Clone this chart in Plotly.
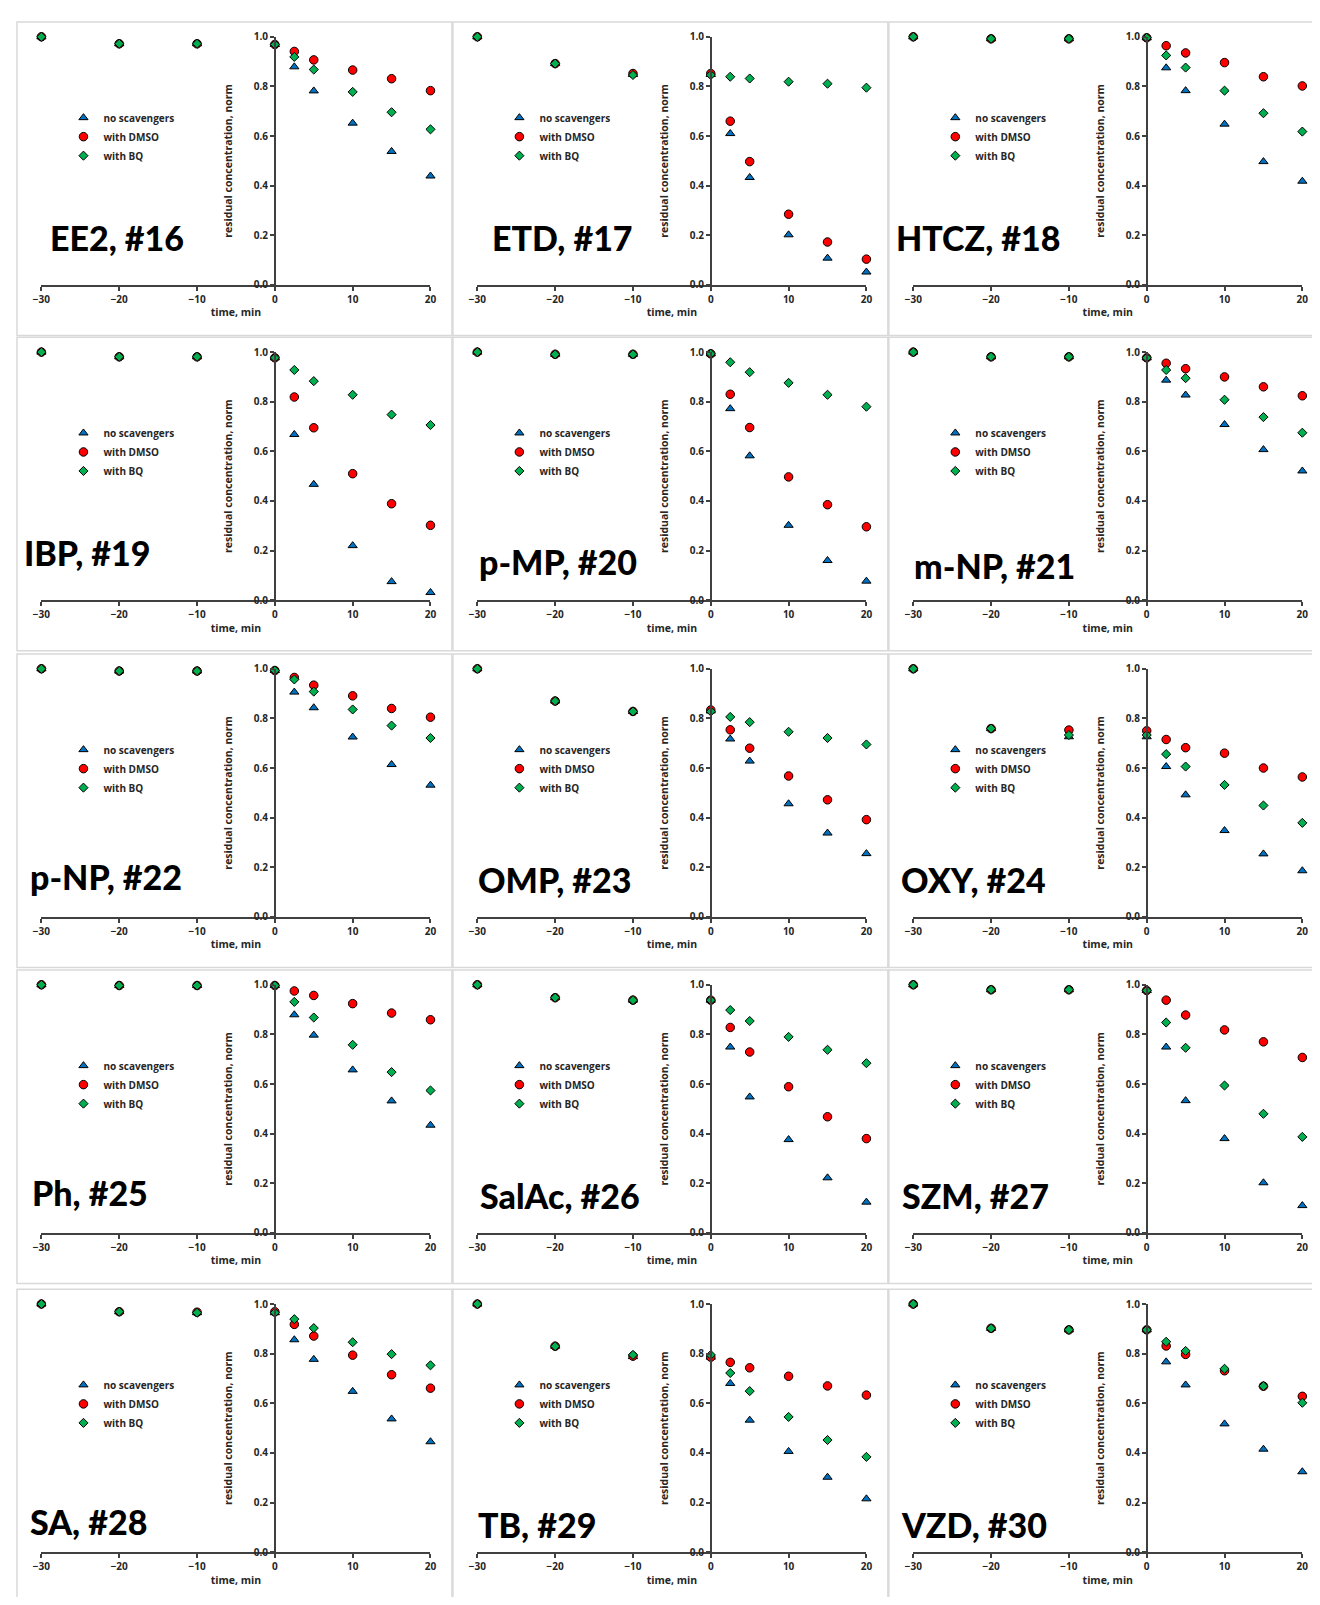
import plotly.graph_objects as go

# page is 1320x1605; the HTML body keeps its default 8px margin,
# so the figure itself is 16px smaller and all positions are shifted by 8px
PAGE_W, PAGE_H = 1320, 1605
BODY_MARGIN = 8
W, H = PAGE_W - 2 * BODY_MARGIN, PAGE_H - 2 * BODY_MARGIN

time_min = [-30, -20, -10, 0, 2.5, 5, 10, 15, 20]

series_names = ["no scavengers", "with DMSO", "with BQ"]

labels = ["EE2, #16", "ETD, #17", "HTCZ, #18",
          "IBP, #19", "p-MP, #20", "m-NP, #21",
          "p-NP, #22", "OMP, #23", "OXY, #24",
          "Ph, #25", "SalAc, #26", "SZM, #27",
          "SA, #28", "TB, #29", "VZD, #30"]

ee2_none = [1.0, 0.972, 0.972, 0.969, 0.879, 0.782, 0.652, 0.538, 0.439]
ee2_dmso = [1.0, 0.972, 0.972, 0.969, 0.941, 0.907, 0.866, 0.831, 0.783]
ee2_bq = [1.0, 0.972, 0.972, 0.969, 0.919, 0.868, 0.778, 0.696, 0.627]

etd_none = [1.0, 0.892, 0.848, 0.848, 0.610, 0.433, 0.202, 0.108, 0.052]
etd_dmso = [1.0, 0.892, 0.852, 0.852, 0.660, 0.497, 0.285, 0.173, 0.104]
etd_bq = [1.0, 0.892, 0.846, 0.846, 0.839, 0.832, 0.819, 0.811, 0.795]

htcz_none = [1.0, 0.992, 0.992, 0.996, 0.875, 0.783, 0.648, 0.497, 0.418]
htcz_dmso = [1.0, 0.992, 0.992, 0.996, 0.964, 0.935, 0.896, 0.839, 0.802]
htcz_bq = [1.0, 0.992, 0.992, 0.996, 0.925, 0.876, 0.783, 0.692, 0.618]

ibp_none = [1.0, 0.981, 0.981, 0.977, 0.668, 0.467, 0.220, 0.075, 0.031]
ibp_dmso = [1.0, 0.981, 0.981, 0.977, 0.819, 0.695, 0.510, 0.389, 0.302]
ibp_bq = [1.0, 0.981, 0.981, 0.977, 0.928, 0.883, 0.828, 0.748, 0.706]

pmp_none = [1.0, 0.991, 0.991, 0.993, 0.772, 0.582, 0.302, 0.160, 0.077]
pmp_dmso = [1.0, 0.991, 0.991, 0.993, 0.830, 0.696, 0.497, 0.385, 0.296]
pmp_bq = [1.0, 0.991, 0.991, 0.993, 0.959, 0.919, 0.876, 0.828, 0.780]

mnp_none = [1.0, 0.981, 0.981, 0.977, 0.887, 0.827, 0.708, 0.607, 0.521]
mnp_dmso = [1.0, 0.981, 0.981, 0.977, 0.955, 0.933, 0.900, 0.860, 0.824]
mnp_bq = [1.0, 0.981, 0.981, 0.977, 0.928, 0.895, 0.808, 0.738, 0.675]

pnp_none = [1.0, 0.991, 0.991, 0.993, 0.906, 0.843, 0.725, 0.614, 0.531]
pnp_dmso = [1.0, 0.991, 0.991, 0.993, 0.965, 0.934, 0.891, 0.840, 0.805]
pnp_bq = [1.0, 0.991, 0.991, 0.993, 0.957, 0.908, 0.836, 0.771, 0.721]

omp_none = [1.0, 0.870, 0.828, 0.830, 0.717, 0.628, 0.456, 0.338, 0.255]
omp_dmso = [1.0, 0.870, 0.828, 0.834, 0.754, 0.680, 0.568, 0.472, 0.392]
omp_bq = [1.0, 0.870, 0.828, 0.828, 0.806, 0.785, 0.746, 0.721, 0.695]

oxy_none = [1.0, 0.759, 0.726, 0.726, 0.606, 0.492, 0.348, 0.254, 0.186]
oxy_dmso = [1.0, 0.759, 0.753, 0.750, 0.715, 0.682, 0.660, 0.600, 0.564]
oxy_bq = [1.0, 0.759, 0.733, 0.733, 0.656, 0.606, 0.532, 0.449, 0.379]

ph_none = [1.0, 0.997, 0.997, 0.997, 0.879, 0.797, 0.657, 0.532, 0.434]
ph_dmso = [1.0, 0.997, 0.997, 0.997, 0.975, 0.957, 0.924, 0.886, 0.859]
ph_bq = [1.0, 0.997, 0.997, 0.997, 0.931, 0.868, 0.758, 0.648, 0.574]

salac_none = [1.0, 0.948, 0.938, 0.938, 0.749, 0.548, 0.376, 0.222, 0.124]
salac_dmso = [1.0, 0.948, 0.938, 0.938, 0.828, 0.729, 0.589, 0.468, 0.380]
salac_bq = [1.0, 0.948, 0.938, 0.938, 0.898, 0.854, 0.790, 0.738, 0.684]

szm_none = [1.0, 0.980, 0.980, 0.977, 0.749, 0.533, 0.380, 0.202, 0.110]
szm_dmso = [1.0, 0.980, 0.980, 0.977, 0.938, 0.878, 0.818, 0.770, 0.707]
szm_bq = [1.0, 0.980, 0.980, 0.977, 0.848, 0.746, 0.594, 0.480, 0.387]

sa_none = [1.0, 0.969, 0.965, 0.965, 0.856, 0.777, 0.648, 0.537, 0.445]
sa_dmso = [1.0, 0.969, 0.967, 0.969, 0.918, 0.871, 0.794, 0.715, 0.661]
sa_bq = [1.0, 0.969, 0.965, 0.965, 0.939, 0.903, 0.846, 0.798, 0.753]

tb_none = [1.0, 0.830, 0.788, 0.786, 0.680, 0.532, 0.406, 0.302, 0.215]
tb_dmso = [1.0, 0.830, 0.790, 0.786, 0.765, 0.743, 0.709, 0.670, 0.633]
tb_bq = [1.0, 0.830, 0.795, 0.795, 0.722, 0.649, 0.545, 0.452, 0.384]

vzd_none = [1.0, 0.902, 0.896, 0.896, 0.767, 0.674, 0.517, 0.415, 0.324]
vzd_dmso = [1.0, 0.902, 0.896, 0.896, 0.831, 0.797, 0.731, 0.669, 0.628]
vzd_bq = [1.0, 0.902, 0.896, 0.896, 0.848, 0.811, 0.739, 0.669, 0.602]

panels = [
    (ee2_none, ee2_dmso, ee2_bq), (etd_none, etd_dmso, etd_bq), (htcz_none, htcz_dmso, htcz_bq),
    (ibp_none, ibp_dmso, ibp_bq), (pmp_none, pmp_dmso, pmp_bq), (mnp_none, mnp_dmso, mnp_bq),
    (pnp_none, pnp_dmso, pnp_bq), (omp_none, omp_dmso, omp_bq), (oxy_none, oxy_dmso, oxy_bq),
    (ph_none, ph_dmso, ph_bq), (salac_none, salac_dmso, salac_bq), (szm_none, szm_dmso, szm_bq),
    (sa_none, sa_dmso, sa_bq), (tb_none, tb_dmso, tb_bq), (vzd_none, vzd_dmso, vzd_bq),
]

x_ticks = [-30, -20, -10, 0, 10, 20]
y_ticks = [0.0, 0.2, 0.4, 0.6, 0.8, 1.0]

# ---- layout geometry (page pixels) ----
col_left = [8, 449, 890]
row_top = [14, 332.3, 652, 971, 1293.3]
PANEL_W, PANEL_H = 440, 316.5
X0_OFF, X1_OFF = 24.7, 418.3
Y1_OFF, Y0_OFF = 15, 265.5
label_off = [(33.7, 234), (39.3, 234), (6.7, 234),
             (7, 233.4), (26.6, 242.7), (25, 246),
             (13, 240.3), (25, 243.7), (12.4, 243.7),
             (15.6, 240.3), (27.4, 243.7), (13, 243.7),
             (13, 250.4), (25, 253.7), (12.4, 253.7)]


def px(x):
    return (x - BODY_MARGIN) / W


def py(y):
    return 1 - (y - BODY_MARGIN) / H


styles = [
    dict(symbol="triangle-up", color="#0070C0", size=8),
    dict(symbol="circle", color="#FF0000", size=8.5),
    dict(symbol="diamond", color="#00B050", size=7),
]

tick_font = dict(family="Open Sans", size=10, color="#262626", weight="bold")
title_font = dict(family="Open Sans", size=10.5, color="#262626", weight="bold")

fig = go.Figure()
layout = {}
shapes = []
annotations = []

for i, (vals, lab) in enumerate(zip(panels, labels)):
    r, c = divmod(i, 3)
    L, T = col_left[c], row_top[r]
    n = "" if i == 0 else str(i + 1)
    xd = [px(L + X0_OFF), px(L + X1_OFF)]
    yd = [py(T + Y0_OFF), py(T + Y1_OFF)]
    legend_id = "legend" + n

    for s, (name, st) in enumerate(zip(series_names, styles)):
        fig.add_trace(go.Scatter(
            x=time_min, y=vals[s], mode="markers", name=name,
            xaxis="x" + n, yaxis="y" + n, legend=legend_id,
            cliponaxis=False, hoverinfo="x+y+name",
            marker=dict(symbol=st["symbol"], color=st["color"], size=st["size"],
                        line=dict(color="black", width=1)),
        ))

    layout["xaxis" + n] = dict(
        domain=xd, range=[-30, 20], anchor="y" + n, tickvals=x_ticks,
        showline=True, linecolor="#404040", linewidth=2, ticks="outside",
        ticklen=4, tickwidth=1.5, tickcolor="#404040", showgrid=False, zeroline=False,
        tickfont=tick_font, title=dict(text="time, min", font=title_font, standoff=4),
    )
    layout["yaxis" + n] = dict(
        domain=yd, range=[0, 1], anchor="free",
        position=xd[0] + 0.6 * (xd[1] - xd[0]), side="left",
        tickvals=y_ticks, tickformat=".1f",
        showline=True, linecolor="#404040", linewidth=1.5, ticks="outside",
        ticklen=4, tickwidth=1.5, tickcolor="#404040", showgrid=False, zeroline=False,
        tickfont=tick_font,
        title=dict(text="residual concentration, norm", font=title_font, standoff=18),
    )
    layout[legend_id] = dict(
        x=px(L + 47), y=py(T + 82), xanchor="left", yanchor="top",
        bgcolor="rgba(0,0,0,0)", borderwidth=0,
        font=dict(family="Open Sans", size=10, color="#262626", weight="bold"),
    )
    shapes.append(dict(type="rect", xref="paper", yref="paper",
                       x0=px(L), x1=px(L + PANEL_W),
                       y0=py(T + PANEL_H), y1=py(T),
                       line=dict(color="#D9D9D9", width=1.5), layer="below"))
    dx, dy = label_off[i]
    annotations.append(dict(
        text=lab, xref="paper", yref="paper", x=px(L + dx - 2),
        y=py(T + dy - 16), xanchor="left", yanchor="middle",
        showarrow=False, font=dict(family="Lato", size=34, color="black", weight=900),
    ))

fig.update_layout(
    width=W, height=H, margin=dict(l=0, r=0, t=0, b=0),
    paper_bgcolor="white", plot_bgcolor="white",
    shapes=shapes, annotations=annotations, showlegend=True,
    **layout,
)

fig.write_html("out.html", config={"displayModeBar": False})
